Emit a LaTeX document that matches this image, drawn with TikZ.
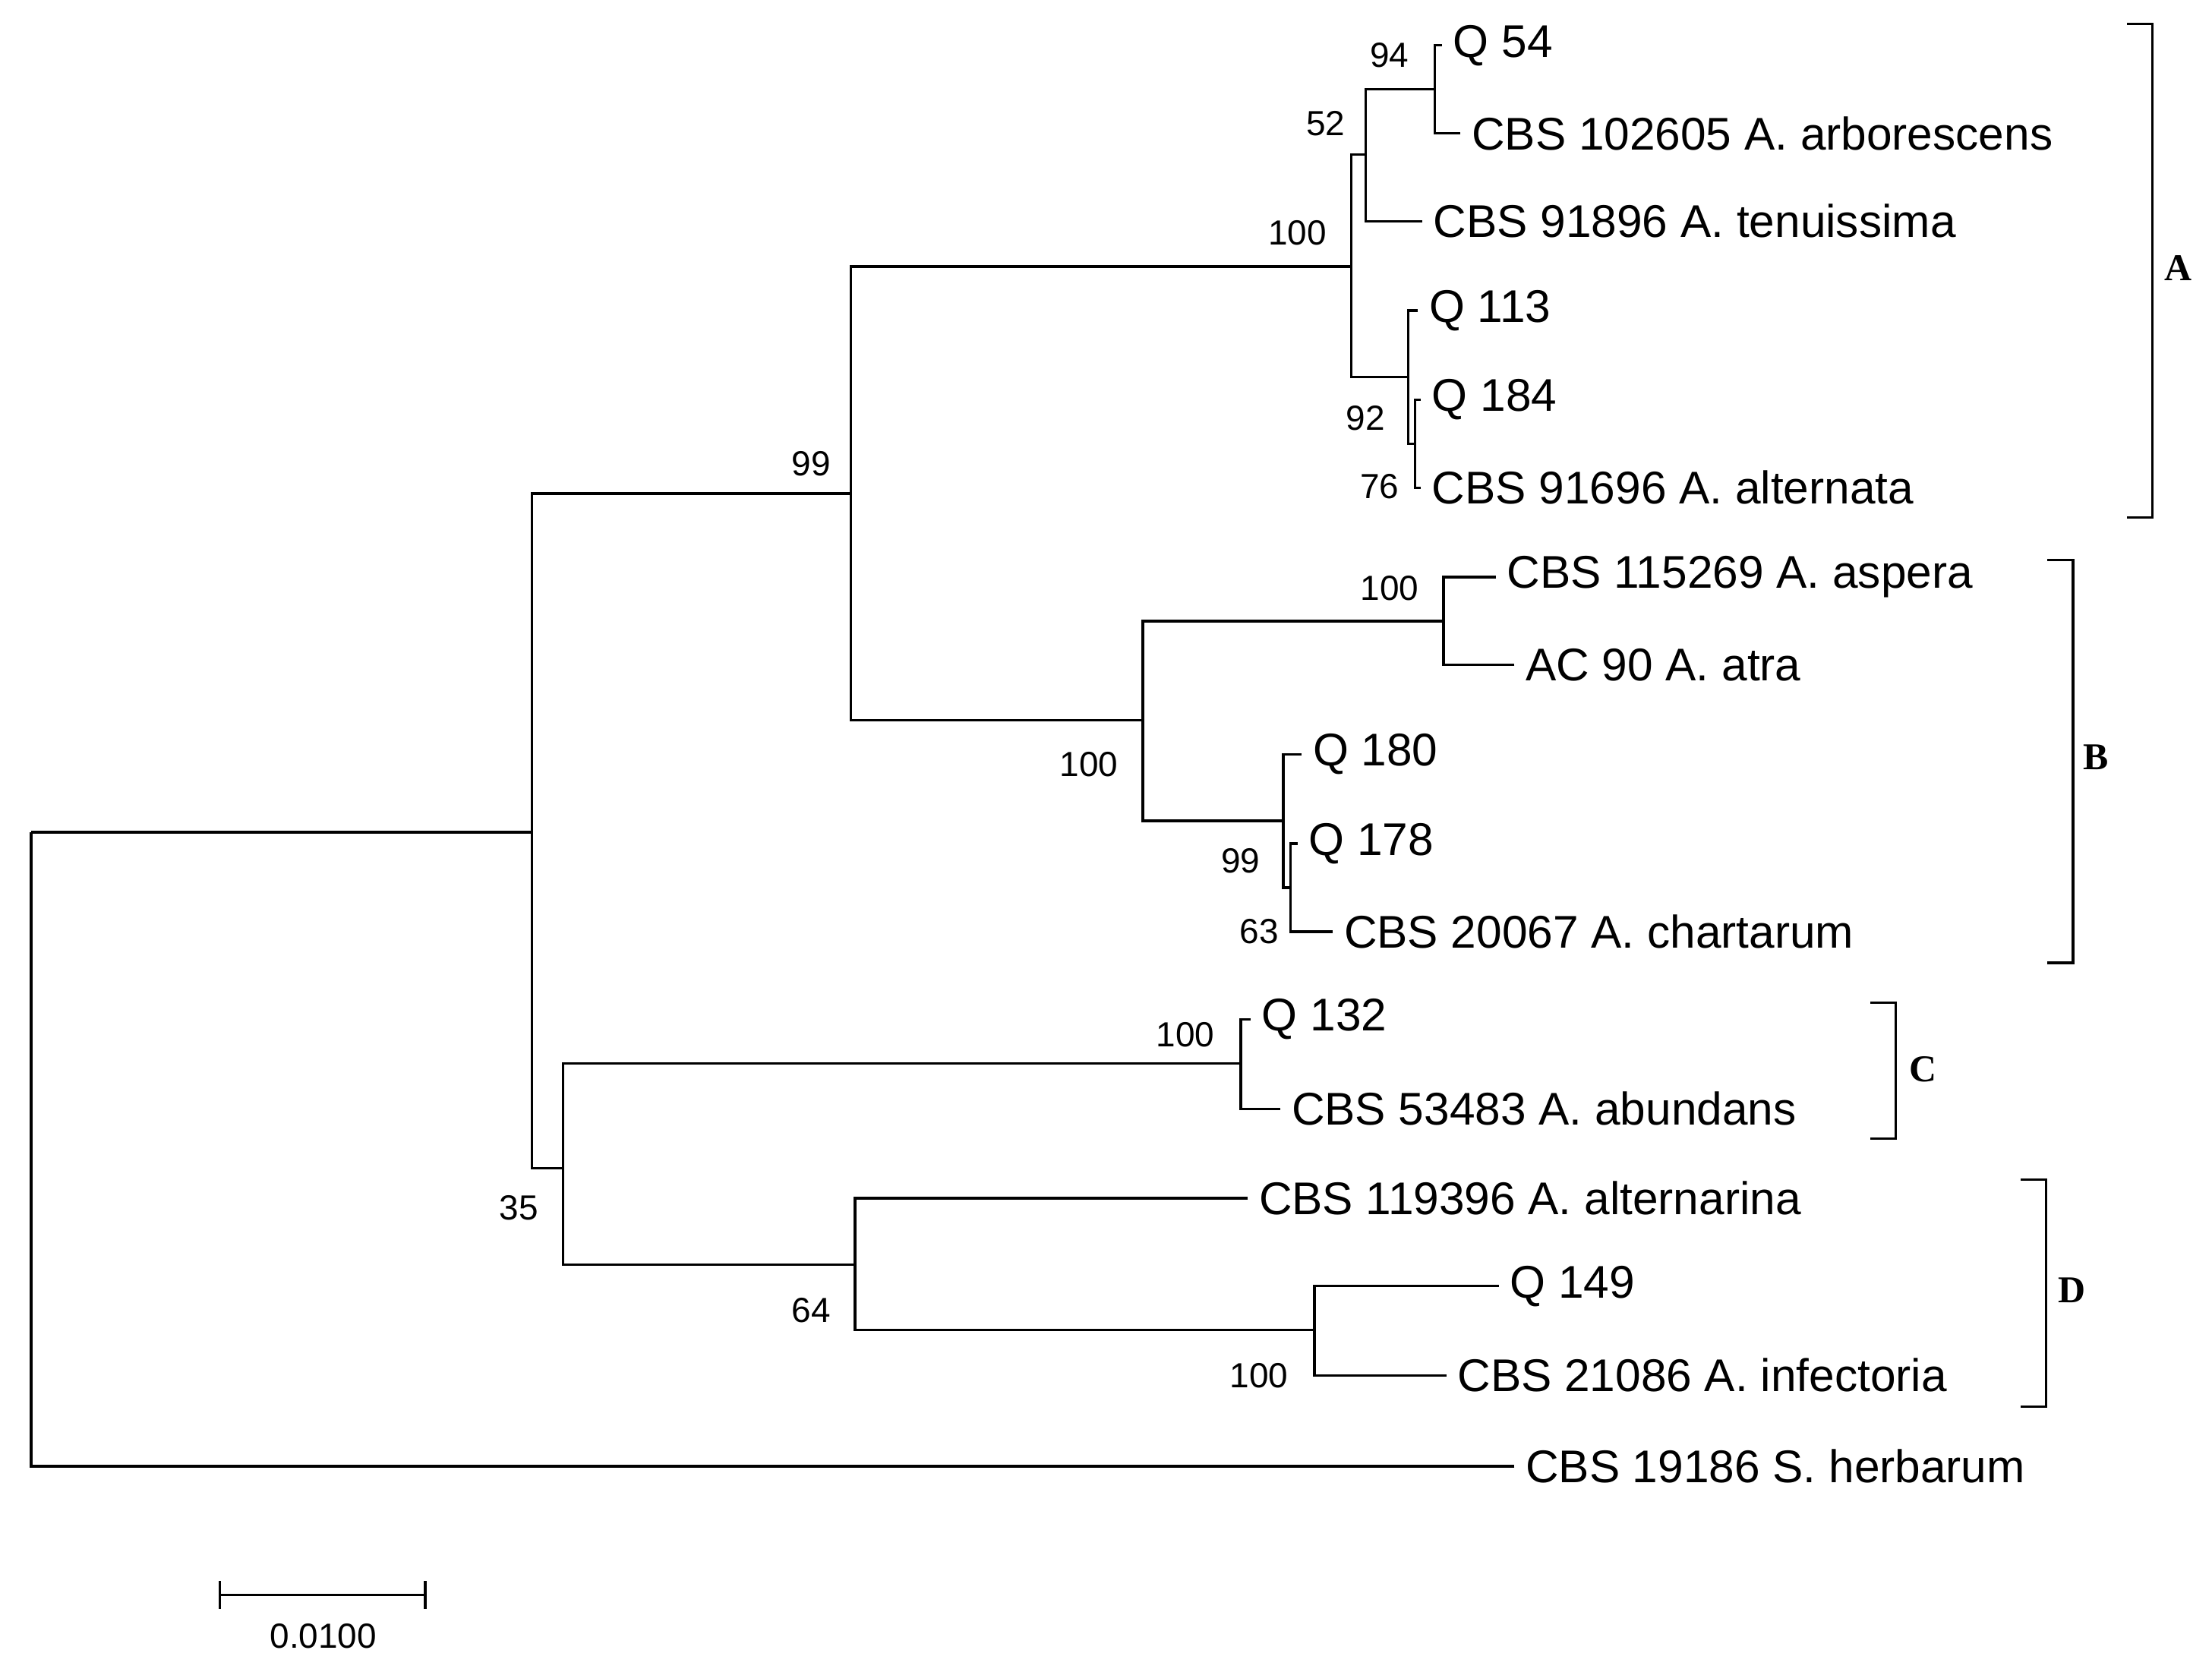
\documentclass[tikz,border=0pt]{standalone}
\usepackage{fontspec}
\setmainfont{Liberation Sans}
\newfontfamily\serifb{Liberation Serif}
\begin{document}
\begin{tikzpicture}[x=0.05cm,y=-0.05cm,line width=2.6pt,
 leaf/.style={anchor=west,font=\fontsize{46}{48}\selectfont,inner sep=0pt,xshift=10pt},
 bs/.style={font=\fontsize{35}{37}\selectfont,inner sep=0pt},
 grp/.style={font=\serifb\bfseries\fontsize{38}{40}\selectfont,inner sep=0pt}]
\useasboundingbox[fill=white] (0,3) rectangle (1560,1180);
% leaves
\coordinate (t1) at (1017,35);  \node[leaf] (L1) at (t1) {Q 54};
\coordinate (t2) at (1030,97);  \node[leaf] (L2) at (t2) {CBS 102605 A. arborescens};
\coordinate (t3) at (1003,159); \node[leaf] (L3) at (t3) {CBS 91896 A. tenuissima};
\coordinate (t4) at (1000,222); \node[leaf] (L4) at (t4) {Q 113};
\coordinate (t5) at (1002,285); \node[leaf] (L5) at (t5) {Q 184};
\coordinate (t6) at (1002,347); \node[leaf] (L6) at (t6) {CBS 91696 A. alternata};
\coordinate (t7) at (1055,410); \node[leaf] (L7) at (t7) {CBS 115269 A. aspera};
\coordinate (t8) at (1068,472); \node[leaf] (L8) at (t8) {AC 90 A. atra};
\coordinate (t9) at (918,535);  \node[leaf] (L9) at (t9) {Q 180};
\coordinate (t10) at (915,598); \node[leaf] (L10) at (t10) {Q 178};
\coordinate (t11) at (940,660); \node[leaf] (L11) at (t11) {CBS 20067 A. chartarum};
\coordinate (t12) at (882,722); \node[leaf] (L12) at (t12) {Q 132};
\coordinate (t13) at (903,785); \node[leaf] (L13) at (t13) {CBS 53483 A. abundans};
\coordinate (t14) at (880,848); \node[leaf] (L14) at (t14) {CBS 119396 A. alternarina};
\coordinate (t15) at (1057,910);\node[leaf] (L15) at (t15) {Q 149};
\coordinate (t16) at (1020,973);\node[leaf] (L16) at (t16) {CBS 21086 A. infectoria};
\coordinate (t17) at (1068,1037);\node[leaf] (L17) at (t17) {CBS 19186 S. herbarum};
% internal nodes
\coordinate (n94) at (1012,66);
\coordinate (n52) at (963,112);
\coordinate (n76) at (998,316);
\coordinate (n92) at (993,269);
\coordinate (nA) at (953,191);
\coordinate (nB1) at (1018,441);
\coordinate (n63) at (910,629);
\coordinate (n99b) at (905,582);
\coordinate (nB) at (806,511);
\coordinate (n99) at (600,351);
\coordinate (nC) at (875,753);
\coordinate (nD) at (927,941);
\coordinate (n64) at (603,895);
\coordinate (n35) at (397,827);
\coordinate (nI) at (375,590);
\coordinate (nR) at (22,590);
\draw (t1) -| (n94) (t2) -| (n94);
\draw (n94) -| (n52) (t3) -| (n52);
\draw (t5) -| (n76) (t6) -| (n76);
\draw (t4) -| (n92) (n76) -| (n92);
\draw (n52) -| (nA) (n92) -| (nA);
\draw (t7) -| (nB1) (t8) -| (nB1);
\draw (t10) -| (n63) (t11) -| (n63);
\draw (t9) -| (n99b) (n63) -| (n99b);
\draw (nB1) -| (nB) (n99b) -| (nB);
\draw (nA) -| (n99) (nB) -| (n99);
\draw (t12) -| (nC) (t13) -| (nC);
\draw (t15) -| (nD) (t16) -| (nD);
\draw (t14) -| (n64) (nD) -| (n64);
\draw (nC) -| (n35) (n64) -| (n35);
\draw (n99) -| (nI) (n35) -| (nI);
\draw (nI) -| (nR) (t17) -| (nR);
% bootstrap
\node[bs] (b94) at (980,42) {94};
\node[bs] (b52) at (935,90) {52};
\node[bs] (b100a) at (915,167) {100};
\node[bs] (b92) at (963,298) {92};
\node[bs] (b76) at (973,346) {76};
\node[bs] (b99) at (572,330) {99};
\node[bs] (b100b1) at (980,418) {100};
\node[bs] (b100b) at (768,542) {100};
\node[bs] (b99b) at (875,610) {99};
\node[bs] (b63) at (888,660) {63};
\node[bs] (b100c) at (836,733) {100};
\node[bs] (b35) at (366,855) {35};
\node[bs] (b64) at (572,927) {64};
\node[bs] (b100d) at (888,973) {100};
% brackets
\draw (1500,20) -- (1518,20) -- (1518,368) -- (1500,368);
\node[grp] (gA) at (1536,192) {A};
\draw (1444,398) -- (1462,398) -- (1462,682) -- (1444,682);
\node[grp] (gB) at (1478,537) {B};
\draw (1319,710) -- (1337,710) -- (1337,806) -- (1319,806);
\node[grp] (gC) at (1356,757) {C};
\draw (1425,835) -- (1443,835) -- (1443,995) -- (1425,995);
\node[grp] (gD) at (1461,913) {D};
% scale bar
\coordinate (s1) at (155,1128); \coordinate (s2) at (300,1128);
\draw (s1) -- (s2);
\draw (155,1118) -- (155,1138) (300,1118) -- (300,1138);
\node[bs] (sl) at (228,1157) {0.0100};
\end{tikzpicture}
\end{document}
